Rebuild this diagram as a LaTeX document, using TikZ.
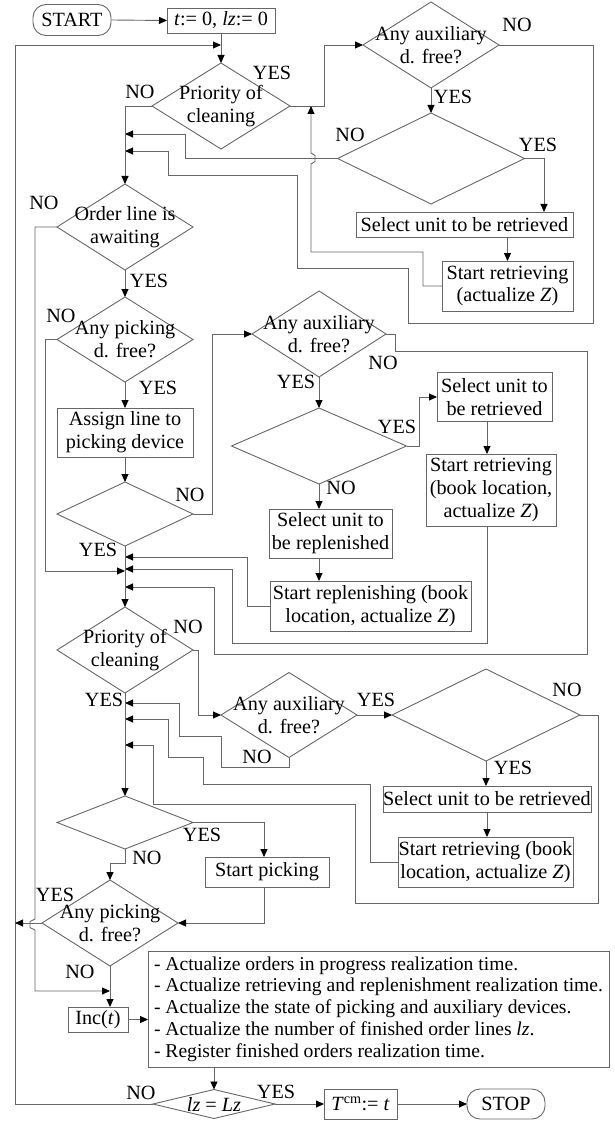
\documentclass[tikz,border=0pt]{standalone}
\usepackage{fontspec}
\setmainfont{Liberation Serif}
\usetikzlibrary{shapes.geometric,arrows.meta}
\begin{document}
\begin{tikzpicture}[x=1pt,y=-1pt,
  every node/.style={font=\fontsize{20.2}{22.8}\selectfont, text=black},
  ln/.style={draw=black!60, line width=0.9pt},
  arr/.style={ln, -{Triangle[length=8pt,width=7pt,color=black]}},
  dia/.style={diamond, ln, inner sep=0pt, outer sep=0pt},
  box/.style={rectangle, ln, inner sep=0pt, outer sep=0pt, align=center},
  rbox/.style={box, rounded corners=13pt},
  txt/.style={inner sep=0pt, align=center},
  yn/.style={inner sep=0pt}]
\useasboundingbox (0,0) rectangle (614,1123);

% ---------- nodes ----------
\node[rbox, minimum width=78pt, minimum height=31pt] (start) at (72,20) {START};
\node[box, minimum width=108pt, minimum height=25pt] (init) at (221,20.5) {\textit{t}:= 0, \textit{lz}:= 0};

\node[dia, minimum width=138pt, minimum height=86pt] (d1) at (221,106) {};
\node[txt] (d1t) at (d1) {Priority of\\cleaning};

\node[dia, minimum width=136pt, minimum height=86pt] (d2) at (431,45) {};
\node[txt] (d2t) at (d2) {Any auxiliary\\d. free?};

\node[dia, minimum width=187pt, minimum height=91pt] (d3) at (431,158.5) {};

\node[box, minimum width=217pt, minimum height=25pt] (sel1) at (464.5,224.5) {Select unit to be retrieved};
\node[box, minimum width=131pt, minimum height=50pt] (ret1) at (507.5,286) {Start retrieving\\(actualize \textit{Z})};

\node[dia, minimum width=136pt, minimum height=86pt] (d4) at (125,227) {};
\node[txt] (d4t) at (d4) {Order line is\\awaiting};

\node[dia, minimum width=136pt, minimum height=85pt] (d5) at (125,339.5) {};
\node[txt] (d5t) at (d5) {Any picking\\d. free?};

\node[box, minimum width=136pt, minimum height=49pt] (assign) at (125,432.5) {Assign line to\\picking device};

\node[dia, minimum width=136pt, minimum height=64pt] (d6) at (125,514) {};

\node[dia, minimum width=134pt, minimum height=86pt] (d7) at (319,334) {};
\node[txt] (d7t) at (d7) {Any auxiliary\\d. free?};

\node[dia, minimum width=175pt, minimum height=76pt] (d8) at (319,446) {};

\node[box, minimum width=115pt, minimum height=49pt] (sel2) at (494.5,397) {Select unit to\\be retrieved};
\node[box, minimum width=130pt, minimum height=72pt] (ret2) at (491,490) {Start retrieving\\(book location,\\actualize \textit{Z})};

\node[box, minimum width=123pt, minimum height=49pt] (selrep) at (330.5,533.5) {Select unit to\\be replenished};
\node[box, minimum width=201pt, minimum height=50pt] (startrep) at (370.5,606) {Start replenishing (book\\location, actualize \textit{Z})};

\node[dia, minimum width=136pt, minimum height=86pt] (d9) at (125,650) {};
\node[txt] (d9t) at (d9) {Priority of\\cleaning};

\node[dia, minimum width=136pt, minimum height=85pt] (d10) at (289,715) {};
\node[txt] (d10t) at (d10) {Any auxiliary\\d. free?};

\node[dia, minimum width=188pt, minimum height=92pt] (d11) at (486,715) {};

\node[box, minimum width=208pt, minimum height=26pt] (sel3) at (487,799) {Select unit to be retrieved};
\node[box, minimum width=175pt, minimum height=50pt] (ret3) at (485.5,862) {Start retrieving (book\\location, actualize \textit{Z})};

\node[dia, minimum width=136pt, minimum height=53pt] (d12) at (125,822.5) {};

\node[box, minimum width=124pt, minimum height=30pt] (pick) at (267,872) {Start picking};

\node[dia, minimum width=136pt, minimum height=86pt] (d13) at (110,923) {};
\node[txt] (d13t) at (d13) {Any picking\\d. free?};

\node[box, minimum width=60pt, minimum height=25pt] (inc) at (98,1019.5) {Inc(\textit{t})};

\node[box, minimum width=461pt, minimum height=116pt, align=left,
      font=\fontsize{19.6}{21.7}\selectfont] (big) at (378.5,1009)
  {- Actualize orders in progress realization time.\\
   - Actualize retrieving and replenishment realization time.\\
   - Actualize the state of picking and auxiliary devices.\\
   - Actualize the number of finished order lines \textit{lz}.\\
   - Register finished orders realization time.};

\node[dia, minimum width=122pt, minimum height=29pt] (d14) at (214,1104) {};
\node[txt] (d14t) at (d14) {\textit{lz} = \textit{Lz}};

\node[box, minimum width=73pt, minimum height=30pt] (tcm) at (360.5,1104) {\textit{T}\textsuperscript{cm}:= \textit{t}};
\node[rbox, minimum width=78pt, minimum height=30pt] (stop) at (506,1104) {STOP};

% ---------- labels ----------
\node[yn] (l1y) at (272,73) {YES};
\node[yn] (l1n) at (140,92) {NO};
\node[yn] (l2n) at (517,25) {NO};
\node[yn] (l2y) at (453,97) {YES};
\node[yn] (l3n) at (350,135) {NO};
\node[yn] (l3y) at (538,145) {YES};
\node[yn] (l4n) at (44,203) {NO};
\node[yn] (l4y) at (149,281) {YES};
\node[yn] (l5n) at (61,316) {NO};
\node[yn] (l5y) at (158,388) {YES};
\node[yn] (l6n) at (190,495) {NO};
\node[yn] (l6y) at (98,550) {YES};
\node[yn] (l7n) at (383,363) {NO};
\node[yn] (l7y) at (296,382) {YES};
\node[yn] (l8y) at (397,427) {YES};
\node[yn] (l8n) at (341,488) {NO};
\node[yn] (l9n) at (188,627) {NO};
\node[yn] (l9y) at (104,700) {YES};
\node[yn] (l10y) at (376,700) {YES};
\node[yn] (l10n) at (257,757) {NO};
\node[yn] (l11n) at (567,690) {NO};
\node[yn] (l11y) at (513,768) {YES};
\node[yn] (l12y) at (202,835) {YES};
\node[yn] (l12n) at (147,858) {NO};
\node[yn] (l13y) at (55,895) {YES};
\node[yn] (l13n) at (80,972) {NO};
\node[yn] (l14n) at (141,1093) {NO};
\node[yn] (l14y) at (276,1092) {YES};

% ---------- coordinates ----------
\coordinate (jL) at (15,45);
\coordinate (jR) at (221,45);
\coordinate (c3) at (544,158.5);
\coordinate (x487) at (487,0);
\coordinate (c12) at (264,822.5);

% ---------- connectors ----------
\draw[arr] (start.east) -- (init.west);
\draw[arr] (init.south) -- (d1.north);
\draw[arr] (d14.west) -| (jL) -- (jR);

\draw[arr] (d1.east) -- (324,106) |- (d2.west);
\draw[arr] (d2.south) -- (d3.north);
\draw[arr] (d3.east) -- (c3) -- (c3 |- sel1.north);
\draw[arr] (ret1.north |- sel1.south) -- (ret1.north);
\draw[arr] (ret1.west) -- (423,286) -- (423,252) -- (311,252) -- (311,164) -- (315,161.5) -- (315,155.5) -- (311,153) -- (311,106);
\draw[arr] (d2.east) -- (593,45) -- (593,323) -- (408,323) -- (408,268) -- (297,268) -- (297,175) -- (168,175) -- (168,151) -- (125,151);
\draw[arr] (d3.west) -| (185,134) -- (125,134);
\draw[arr] (d1.west) -| (d4.north);

\draw[arr] (d4.west) -| (35,919) -- (30,921.5) -- (30,927.5) -- (35,930) -- (35,991) -- (110,991);
\draw[arr] (d4.south) -- (d5.north);
\draw[arr] (d5.west) -| (45,571) -- (125,571);
\draw[arr] (d5.south) -- (assign.north);
\draw[arr] (assign.south) -- (d6.north);

\draw[arr] (d6.east) -- (212,514) |- (d7.west);
\draw[arr] (d7.south) -- (d8.north);
\draw[arr] (d7.east) -- (395,334) -- (395,351) -- (587,351) -- (587,654) -- (214,654) -- (214,587) -- (125,587);
\draw[arr] (d8.east) -- (419,446) |- (sel2.west);
\draw[arr] (sel2.south -| x487) -- (ret2.north -| x487);
\draw[arr] (d8.south) -- (d8.south |- selrep.north);
\draw[arr] (selrep.south -| d8.south) -- (startrep.north -| d8.south);
\draw[arr] (startrep.west) -| (247,557) -- (125,557);
\draw[arr] (ret2.south -| x487) -- (487,643) -- (232,643) -- (232,569) -- (125,569);

\draw[arr] (d6.south) -- (d9.north);
\draw[arr] (d9.east) -- (198,650) |- (d10.west);
\draw[arr] (d10.east) -- (d11.west);
\draw[arr] (d10.south) -- (289,767) -- (221,767) -- (221,736) -- (179,736) -- (179,703) -- (125,703);
\draw[arr] (d11.south) -- (d11.south |- sel3.north);
\draw[arr] (sel3.south -| x487) -- (ret3.north -| x487);
\draw[arr] (ret3.west) -- (370,862) -- (370,784) -- (203,784) -- (203,757) -- (168,757) -- (168,719) -- (125,719);
\draw[arr] (d11.east) -- (598,715) -- (598,903) -- (355,903) -- (355,804) -- (153,804) -- (153,745) -- (125,745);

\draw[arr] (d9.south) -- (d12.north);
\draw[arr] (d12.east) -- (c12) -- (c12 |- pick.north);
\draw[arr] (pick.south -| c12) |- (d13.east);
\draw[arr] (d12.south) -- (125,863) -| (d13.north);
\draw[arr] (d13.west) -- (15,923);
\draw[arr] (d13.south) -- (d13.south |- inc.north);
\draw[arr] (inc.east) -- (inc.east -| big.west);
\draw[arr] (big.south -| d14.north) -- (d14.north);
\draw[arr] (d14.east) -- (tcm.west);
\draw[arr] (tcm.east) -- (stop.west);
\end{tikzpicture}
\end{document}
